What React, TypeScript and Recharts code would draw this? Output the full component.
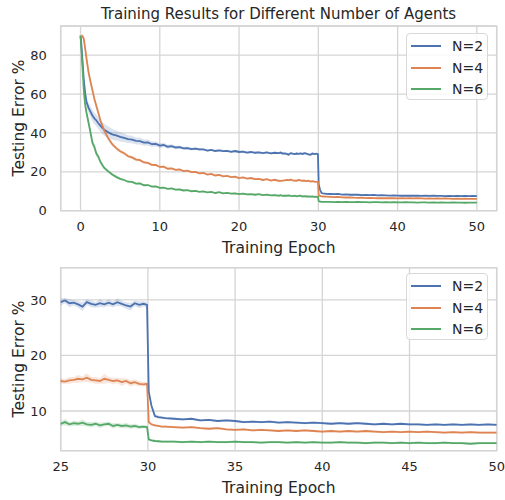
import React from 'react';
import { ComposedChart, Line, Area, XAxis, YAxis, CartesianGrid, ReferenceArea } from 'recharts';

// epochs at which the testing error was logged
const epochs = [
  0, 0.1, 0.25, 0.4, 0.5, 0.6, 0.75, 1, 1.25, 1.5, 1.75, 2, 2.25, 2.5, 2.75, 3, 3.5, 4, 4.5, 5,
  5.5, 6, 6.5, 7, 7.5, 8, 8.5, 9, 9.5, 10, 10.5, 11, 11.5, 12, 12.5, 13, 13.5, 14, 14.5, 15,
  15.5, 16, 16.5, 17, 17.5, 18, 18.5, 19, 19.5, 20, 20.5, 21, 21.5, 22, 22.5, 23, 23.5, 24, 24.5, 25,
  25.25, 25.5, 25.75, 26, 26.25, 26.5, 26.75, 27, 27.25, 27.5, 27.75, 28, 28.25, 28.5, 28.75, 29, 29.25, 29.5, 29.75, 29.95,
  30.05, 30.2, 30.4, 30.6, 30.8, 31,
  31.5, 32, 32.5, 33, 33.5, 34, 34.5, 35, 35.5, 36, 36.5, 37, 37.5, 38, 38.5, 39, 39.5, 40, 40.5, 41,
  41.5, 42, 42.5, 43, 43.5, 44, 44.5, 45, 45.5, 46, 46.5, 47, 47.5, 48, 48.5, 49, 49.5, 50,
];

// mean testing error (%) per run size
const errN2 = [
  90, 86, 77, 68, 64, 60, 56, 53, 51, 49, 47.5, 46.4, 45, 43.8, 42.6, 41.6, 40.3, 39.3, 38.7, 38.0,
  37.5, 36.8, 36.6, 35.9, 35.8, 35.0, 35.1, 34.2, 34.3, 33.5, 33.8, 32.9, 33.2, 32.5, 32.7, 32.1, 32.2, 31.7, 31.9, 31.5,
  31.5, 30.9, 31.3, 30.7, 31.0, 30.6, 30.8, 30.3, 30.7, 30.2, 30.4, 29.9, 30.2, 29.8, 30.0, 29.6, 30.0, 29.5, 29.8, 29.6,
  29.9, 29.4, 29.5, 29.2, 28.8, 29.6, 29.3, 29.1, 29.4, 29.2, 29.5, 29.2, 29.6, 29.3, 29.0, 28.8, 29.4, 29.1, 29.3, 29.1,
  13.5, 11.0, 9.1, 8.9, 8.8, 8.7,
  8.6, 8.5, 8.6, 8.3, 8.4, 8.2, 8.3, 8.2, 8.0, 8.1, 8.0, 8.1, 7.9, 8.0, 7.9, 7.8, 7.9, 7.8, 7.7, 7.8,
  7.7, 7.8, 7.7, 7.6, 7.7, 7.6, 7.7, 7.6, 7.6, 7.5, 7.6, 7.5, 7.6, 7.5, 7.6, 7.5, 7.6, 7.5,
];

const errN4 = [
  null, 90, 89.8, 88.5, 86, 83, 78.5, 71.5, 66.5, 62, 57.5, 53.8, 50.2, 46.5, 43.8, 41.2, 37.2, 34.2, 32.2, 30.6,
  29.6, 28.0, 27.4, 26.3, 26.0, 24.8, 24.6, 23.6, 23.5, 22.5, 22.6, 21.6, 21.8, 21.0, 21.2, 20.4, 20.6, 19.8, 19.9, 19.2,
  19.4, 18.6, 18.9, 18.1, 18.4, 17.7, 17.9, 17.3, 17.5, 16.8, 17.1, 16.5, 16.8, 16.2, 16.4, 15.8, 16.2, 15.5, 15.9, 15.4,
  15.3, 15.5, 15.6, 15.8, 15.7, 16.0, 15.6, 15.5, 15.4, 15.8, 15.6, 15.4, 15.5, 15.2, 15.4, 15.0, 15.2, 14.9, 14.8, 14.9,
  8.0, 7.6, 7.4, 7.3, 7.2, 7.2,
  7.1, 7.0, 7.1, 6.9, 6.8, 6.9, 6.7, 6.6, 6.7, 6.5, 6.6, 6.5, 6.4, 6.5, 6.4, 6.5, 6.4, 6.3, 6.4, 6.3,
  6.4, 6.3, 6.4, 6.3, 6.2, 6.3, 6.2, 6.3, 6.2, 6.3, 6.2, 6.1, 6.2, 6.1, 6.2, 6.1, 6.1, 6.1,
];

const errN6 = [
  90, 84, 74, 63, 58, 54, 50.5, 45.5, 40.5, 35, 32.8, 29.3, 27.8, 25.2, 23.5, 22, 20.2, 18.6, 17.4, 16.4,
  15.8, 14.9, 14.8, 13.9, 14.0, 13.1, 13.2, 12.4, 12.5, 11.7, 11.9, 11.2, 11.5, 10.8, 10.9, 10.4, 10.6, 10.0, 10.2, 9.7,
  9.9, 9.4, 9.7, 9.1, 9.5, 8.9, 9.2, 8.8, 8.9, 8.5, 8.8, 8.4, 8.5, 8.2, 8.5, 8.0, 8.3, 7.9, 8.0, 7.7,
  8.0, 7.6, 7.8, 7.7, 7.9, 7.6, 7.5, 7.7, 7.4, 7.6, 7.7, 7.3, 7.5, 7.3, 7.4, 7.2, 7.3, 7.1, 7.2, 7.1,
  4.9, 4.7, 4.6, 4.55, 4.5, 4.5,
  4.5, 4.4, 4.5, 4.4, 4.5, 4.4, 4.4, 4.5, 4.4, 4.4, 4.3, 4.4, 4.4, 4.3, 4.4, 4.3, 4.4, 4.3, 4.3, 4.4,
  4.3, 4.3, 4.2, 4.3, 4.3, 4.2, 4.3, 4.2, 4.3, 4.2, 4.2, 4.3, 4.2, 4.2, 4.1, 4.2, 4.2, 4.2,
];

// half-width of the shaded band around each mean
const spreadN2 = [
  0, 0.5, 1, 1.5, 2, 2, 2.5, 2.5, 2.8, 3, 3, 3, 3, 3, 3, 3, 3, 2.8, 2.6, 2.4,
  2.2, 2, 1.9, 1.8, 1.7, 1.6, 1.5, 1.4, 1.3, 1.2, 1.1, 1, 1, 0.9, 0.9, 0.8, 0.8, 0.7, 0.7, 0.7,
  0.6, 0.6, 0.6, 0.6, 0.6, 0.6, 0.6, 0.6, 0.6, 0.6, 0.6, 0.6, 0.6, 0.6, 0.6, 0.6, 0.6, 0.6, 0.6, 0.6,
  0.5, 0.7, 0.5, 0.6, 0.8, 0.5, 0.6, 0.5, 0.7, 0.5, 0.6, 0.5, 0.7, 0.5, 0.6, 0.7, 0.5, 0.6, 0.5, 0.5,
  0.5, 0.4, 0.3, 0.3, 0.2, 0.2,
  0.2, 0.2, 0.2, 0.2, 0.2, 0.2, 0.2, 0.2, 0.2, 0.2, 0.2, 0.2, 0.2, 0.2, 0.2, 0.2, 0.2, 0.2, 0.2, 0.2,
  0.2, 0.2, 0.2, 0.2, 0.2, 0.2, 0.2, 0.2, 0.2, 0.2, 0.2, 0.2, 0.2, 0.2, 0.2, 0.2, 0.2, 0.2,
];

const spreadN4 = [
  0, 0.5, 1, 2, 2.5, 3, 3, 2.5, 2.2, 2, 1.8, 1.6, 1.5, 1.4, 1.3, 1.2, 1.1, 1, 1, 0.9,
  0.9, 0.8, 0.8, 0.8, 0.7, 0.7, 0.7, 0.6, 0.6, 0.6, 0.6, 0.6, 0.5, 0.5, 0.5, 0.5, 0.5, 0.5, 0.5, 0.5,
  0.5, 0.5, 0.5, 0.5, 0.5, 0.5, 0.5, 0.5, 0.5, 0.5, 0.5, 0.5, 0.5, 0.5, 0.5, 0.5, 0.5, 0.5, 0.5, 0.5,
  0.4, 0.6, 0.5, 0.7, 0.5, 0.8, 0.5, 0.6, 0.5, 0.9, 0.5, 0.6, 0.5, 0.7, 0.5, 0.6, 0.5, 0.5, 0.4, 0.4,
  0.3, 0.3, 0.2, 0.2, 0.2, 0.2,
  0.2, 0.2, 0.2, 0.2, 0.2, 0.2, 0.2, 0.2, 0.2, 0.2, 0.2, 0.2, 0.2, 0.2, 0.2, 0.2, 0.2, 0.2, 0.2, 0.2,
  0.2, 0.2, 0.2, 0.2, 0.2, 0.2, 0.2, 0.2, 0.2, 0.2, 0.2, 0.2, 0.2, 0.2, 0.2, 0.2, 0.2, 0.2,
];

const spreadN6 = [
  0, 0.5, 1, 1.5, 2, 2, 2, 2, 2, 1.8, 1.6, 1.5, 1.4, 1.2, 1.1, 1, 0.9, 0.8, 0.7, 0.6,
  0.5, 0.5, 0.5, 0.5, 0.5, 0.5, 0.5, 0.5, 0.5, 0.5, 0.4, 0.4, 0.4, 0.4, 0.4, 0.4, 0.4, 0.4, 0.4, 0.4,
  0.4, 0.4, 0.4, 0.4, 0.4, 0.4, 0.4, 0.4, 0.4, 0.4, 0.4, 0.4, 0.4, 0.4, 0.4, 0.4, 0.4, 0.4, 0.4, 0.4,
  0.6, 0.4, 0.5, 0.4, 0.6, 0.4, 0.5, 0.4, 0.5, 0.4, 0.4, 0.5, 0.4, 0.4, 0.5, 0.4, 0.4, 0.4, 0.3, 0.3,
  0.3, 0.2, 0.2, 0.2, 0.2, 0.2,
  0.2, 0.2, 0.2, 0.2, 0.2, 0.2, 0.2, 0.2, 0.2, 0.2, 0.2, 0.2, 0.2, 0.2, 0.2, 0.2, 0.2, 0.2, 0.2, 0.2,
  0.2, 0.2, 0.2, 0.2, 0.2, 0.2, 0.2, 0.2, 0.2, 0.2, 0.2, 0.2, 0.2, 0.2, 0.2, 0.2, 0.2, 0.2,
];

const seriesInfo = [
  { key: 'n2', name: 'N=2', color: '#4c72b0' },
  { key: 'n4', name: 'N=4', color: '#dd8452' },
  { key: 'n6', name: 'N=6', color: '#55a868' },
];

const topXTicks = [0, 10, 20, 30, 40, 50];
const topYTicks = [0, 20, 40, 60, 80];
const zoomXTicks = [25, 30, 35, 40, 45, 50];
const zoomYTicks = [10, 20, 30];

const band = (v: number | null, s: number) => (v == null ? null : [v - s, v + s]);

const data = epochs.map((e, i) => ({
  epoch: e,
  n2: errN2[i],
  n4: errN4[i],
  n6: errN6[i],
  n2Band: band(errN2[i], spreadN2[i]),
  n4Band: band(errN4[i], spreadN4[i]),
  n6Band: band(errN6[i], spreadN6[i]),
}));

const FONT = '"DejaVu Sans", sans-serif';
const TEXT = '#262626';
const GRID = '#d5d5d5';

type PanelProps = {
  top: number;
  height: number;
  marginTop: number;
  xDomain: [number, number];
  yDomain: [number, number];
  xTicks: number[];
  yTicks: number[];
  clip?: boolean;
};

const Panel = ({ top, height, marginTop, xDomain, yDomain, xTicks, yTicks, clip }: PanelProps) => (
  <div style={{ position: 'absolute', left: 0, top }}>
    <ComposedChart width={505} height={height} data={data} margin={{ top: marginTop, right: 8.3, bottom: 0, left: 0 }}>
      <CartesianGrid stroke={GRID} strokeWidth={1.3} />
      <XAxis
        type="number"
        dataKey="epoch"
        domain={xDomain}
        ticks={xTicks}
        allowDataOverflow={clip}
        axisLine={false}
        tickLine={false}
        tickSize={0}
        tickMargin={11}
        height={49.3}
        tick={{ fontSize: 13, fill: TEXT, fontFamily: FONT }}
      />
      <YAxis
        type="number"
        domain={yDomain}
        ticks={yTicks}
        allowDataOverflow={clip}
        axisLine={false}
        tickLine={false}
        tickSize={0}
        tickMargin={14}
        width={60.7}
        tick={{ fontSize: 13, fill: TEXT, fontFamily: FONT }}
      />
      <ReferenceArea
        x1={xDomain[0]}
        x2={xDomain[1]}
        y1={yDomain[0]}
        y2={yDomain[1]}
        fill="none"
        stroke={GRID}
        strokeWidth={1.5}
      />
      {seriesInfo.map((s) => (
        <Area
          key={s.key + 'Band'}
          type="linear"
          dataKey={s.key + 'Band'}
          stroke="none"
          fill={s.color}
          fillOpacity={0.2}
          activeDot={false}
          isAnimationActive={false}
        />
      ))}
      {seriesInfo.map((s) => (
        <Line
          key={s.key}
          type="linear"
          dataKey={s.key}
          name={s.name}
          stroke={s.color}
          strokeWidth={1.8}
          dot={false}
          isAnimationActive={false}
        />
      ))}
    </ComposedChart>
  </div>
);

const LegendBox = ({ top }: { top: number }) => (
  <div
    style={{
      position: 'absolute',
      left: 406,
      top,
      width: 82,
      height: 67,
      boxSizing: 'border-box',
      border: '1px solid #d8d8d8',
      borderRadius: 4,
      background: 'rgba(255,255,255,0.8)',
      fontFamily: FONT,
      fontSize: 14,
      color: TEXT,
    }}
  >
    {seriesInfo.map((s, i) => (
      <div key={s.key} style={{ position: 'absolute', left: 4, top: 4 + i * 21.6, height: 16, display: 'flex', alignItems: 'center' }}>
        <div style={{ width: 30, height: 2, background: s.color }} />
        <span style={{ marginLeft: 11, lineHeight: '16px' }}>{s.name}</span>
      </div>
    ))}
  </div>
);

const textStyle: React.CSSProperties = {
  position: 'absolute',
  fontFamily: FONT,
  color: TEXT,
  whiteSpace: 'nowrap',
  transform: 'translate(-50%, -50%)',
};

export default function App() {
  return (
    <div style={{ position: 'absolute', left: 0, top: 0, width: 505, height: 500, background: '#fff' }}>
      <Panel top={0} height={260} marginTop={26} xDomain={[-2.5, 52.5]} yDomain={[0, 95]} xTicks={topXTicks} yTicks={topYTicks} />
      <Panel top={255} height={245} marginTop={12.7} xDomain={[25, 50]} yDomain={[2.85, 35.8]} xTicks={zoomXTicks} yTicks={zoomYTicks} clip />
      <LegendBox top={33} />
      <LegendBox top={273} />
      <div style={{ ...textStyle, left: 278.5, top: 14, fontSize: 15 }}>Training Results for Different Number of Agents</div>
      <div style={{ ...textStyle, left: 278.7, top: 248, fontSize: 15.5 }}>Training Epoch</div>
      <div style={{ ...textStyle, left: 278.7, top: 488, fontSize: 15.5 }}>Training Epoch</div>
      <div style={{ ...textStyle, left: 18.5, top: 118.4, fontSize: 15.5, transform: 'translate(-50%, -50%) rotate(-90deg)' }}>Testing Error %</div>
      <div style={{ ...textStyle, left: 18.5, top: 359.2, fontSize: 15.5, transform: 'translate(-50%, -50%) rotate(-90deg)' }}>Testing Error %</div>
    </div>
  );
}
